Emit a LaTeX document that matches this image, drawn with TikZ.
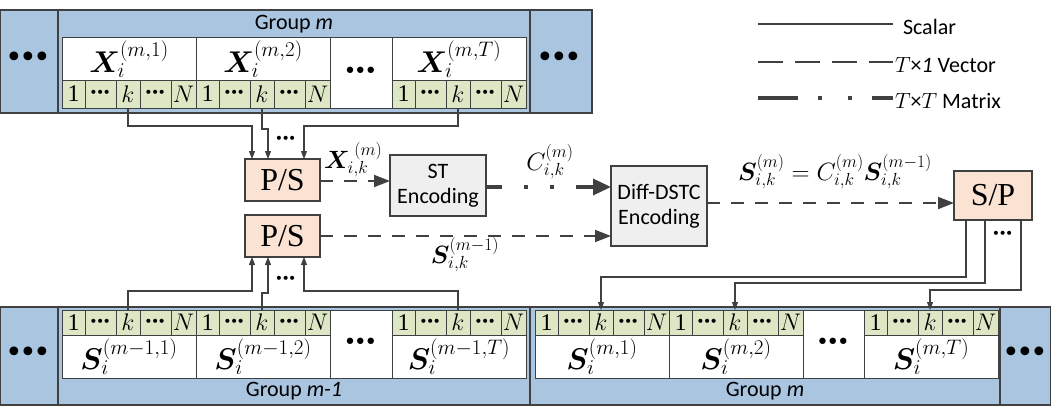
\documentclass[tikz,border=0pt]{standalone}
\usepackage{fix-cm}
\usepackage{bm}
\usepackage{fontspec}
\setmainfont{Liberation Serif}
\setsansfont{Carlito}
\newfontfamily\dotf{DejaVu Sans}
\usetikzlibrary{arrows.meta}
\definecolor{ln}{HTML}{404040}
\definecolor{bandc}{HTML}{A9C5E0}
\definecolor{grn}{HTML}{DDE7C5}
\definecolor{psc}{HTML}{FBE3D4}
\definecolor{gbox}{HTML}{EFEFEF}
\newcommand\bdots{{\dotf\kern-0.05em•\kern-0.12em•\kern-0.12em•}}
\tikzset{
 every node/.style={inner sep=0pt,outer sep=0pt},
 band/.style={draw=ln,fill=bandc,line width=1.2pt},
 gcell/.style={draw=ln,fill=grn,line width=1pt,font=\fontsize{24}{24}\selectfont},
 wcell/.style={draw=ln,fill=white,line width=1pt},
 psbox/.style={draw=ln,fill=psc,line width=1.6pt,font=\fontsize{32}{32}\selectfont},
 encbox/.style={draw=ln,fill=gbox,line width=1.4pt,font=\sffamily\fontsize{22}{25}\selectfont,align=center},
 scal/.style={draw=ln,line width=1.1pt},
 sarr/.style={scal,-{Triangle[length=8pt,width=6pt]}},
 vec/.style={draw=ln,line width=1.8pt,dash pattern=on 13pt off 11pt},
 varr/.style={vec,-{Triangle[length=16pt,width=12pt]}},
 mat/.style={draw=ln,line width=3.5pt},
 lbl/.style={font=\sffamily\fontsize{22}{22}\selectfont},
 bigdots/.style={font=\fontsize{30}{30}\selectfont},
 mlab/.style={font=\fontsize{25}{25}\selectfont}
}
\newcommand\kblk[4]{% name, left x, top y, height
 \node[gcell,minimum width=23pt,minimum height=#4pt] (#1a) at (#2+11.5,#3+#4/2) {1};
 \node[gcell,minimum width=31pt,minimum height=#4pt] (#1b) at (#2+38.5,#3+#4/2) {\fontsize{14}{14}\selectfont\bdots};
 \node[gcell,minimum width=24pt,minimum height=#4pt] (#1k) at (#2+66,#3+#4/2) {$k$};
 \node[gcell,minimum width=31pt,minimum height=#4pt] (#1d) at (#2+93.5,#3+#4/2) {\fontsize{14}{14}\selectfont\bdots};
 \node[gcell,minimum width=25pt,minimum height=#4pt] (#1n) at (#2+121.5,#3+#4/2) {$N$};
}
\newcommand\wblk[5]{% name, left x, top y, height, text
 \node[wcell,minimum width=134pt,minimum height=#4pt] (#1) at (#2+67,#3+#4/2) {\fontsize{30}{30}\selectfont\raisebox{-2pt}{$#5$}};
}
\begin{document}
\begin{tikzpicture}[x=1pt,y=-1pt]
\useasboundingbox (0,0) rectangle (1051,412);
% ===== top group
\node[band,minimum width=58pt,minimum height=103pt] (tl) at (29,61.5) {};
\node[band,minimum width=472pt,minimum height=103pt] (tg) at (294,61.5) {};
\node[band,minimum width=62pt,minimum height=103pt] (tr) at (561,61.5) {};
\node[bigdots] (tld) at (29,60) {\bdots};
\node[bigdots] (trd) at (560,60) {\bdots};
\node[lbl] (tgl) at (294,24) {Group \textit{m}};
\wblk{tx1}{62}{38}{42}{\bm X_i^{(m,1)}}
\wblk{tx2}{196}{38}{42}{\bm X_i^{(m,2)}}
\node[wcell,minimum width=62pt,minimum height=70pt] (txd) at (361,73) {\fontsize{22}{22}\selectfont\bdots};
\wblk{tx3}{392}{38}{42}{\bm X_i^{(m,T)}}
\kblk{ta}{62}{80}{28}
\kblk{tb}{196}{80}{28}
\kblk{tc}{392}{80}{28}
% ===== bottom groups
\node[band,minimum width=58pt,minimum height=98pt] (bl) at (29,356) {};
\node[band,minimum width=472pt,minimum height=98pt] (bg1) at (294,356) {};
\node[band,minimum width=470pt,minimum height=98pt] (bg2) at (765,356) {};
\node[band,minimum width=51pt,minimum height=98pt] (br) at (1025.5,356) {};
\node[bigdots] (bld) at (29,355) {\bdots};
\node[bigdots] (brd) at (1026,355) {\bdots};
\node[lbl] (bgl1) at (294,391) {Group \textit{m-1}};
\node[lbl] (bgl2) at (765,391) {Group \textit{m}};
\kblk{ba}{62}{310}{25}
\kblk{bb}{196}{310}{25}
\kblk{bc}{392}{310}{25}
\wblk{bs1}{62}{335}{43}{\bm S_i^{(m-1,1)}}
\wblk{bs2}{196}{335}{43}{\bm S_i^{(m-1,2)}}
\node[wcell,minimum width=62pt,minimum height=68pt] (bsd) at (361,344) {\fontsize{22}{22}\selectfont\bdots};
\wblk{bs3}{392}{335}{43}{\bm S_i^{(m-1,T)}}
\kblk{ca}{535}{310}{25}
\kblk{cb}{669}{310}{25}
\kblk{cc}{864}{310}{25}
\wblk{cs1}{535}{335}{43}{\bm S_i^{(m,1)}}
\wblk{cs2}{669}{335}{43}{\bm S_i^{(m,2)}}
\node[wcell,minimum width=61pt,minimum height=68pt] (csd) at (833.5,344) {\fontsize{22}{22}\selectfont\bdots};
\wblk{cs3}{864}{335}{43}{\bm S_i^{(m,T)}}
% ===== boxes
\node[psbox,minimum width=75pt,minimum height=42pt] (ps1) at (282.5,180) {P/S};
\node[psbox,minimum width=75pt,minimum height=42pt] (ps2) at (282.5,236) {P/S};
\node[encbox,minimum width=96pt,minimum height=61pt] (st) at (438,185.5) {ST\\Encoding};
\node[encbox,minimum width=96pt,minimum height=80pt] (dd) at (659,206) {Diff-DSTC\\Encoding};
\node[psbox,minimum width=78pt,minimum height=49pt] (sp) at (993,195.5) {S/P};
% ===== top connectors
\coordinate (j1) at (252,126); \coordinate (j2) at (268,129); \coordinate (j3) at (304,126);
\draw[sarr] (tak.south) |- (j1) -- (j1 |- ps1.north);
\draw[sarr] (tbk.south) |- (j2) -- (j2 |- ps1.north);
\draw[sarr] (tck.south) |- (j3) -- (j3 |- ps1.north);
\node[font=\fontsize{14}{14}\selectfont] (td) at (286,140) {\bdots};
% bottom connectors
\coordinate (k1) at (252,291); \coordinate (k2) at (268,293); \coordinate (k3) at (304,291);
\draw[sarr] (bak.north) |- (k1) -- (k1 |- ps2.south);
\draw[sarr] (bbk.north) |- (k2) -- (k2 |- ps2.south);
\draw[sarr] (bck.north) |- (k3) -- (k3 |- ps2.south);
\node[font=\fontsize{14}{14}\selectfont] (bd) at (286,280) {\bdots};
% S/P outputs
\coordinate (s1) at (966,277); \coordinate (s2) at (985,283); \coordinate (s3) at (1021,290);
\draw[sarr] (s1 |- sp.south) -- (s1) -| (cak.north);
\draw[sarr] (s2 |- sp.south) -- (s2) -| (cbk.north);
\draw[sarr] (s3 |- sp.south) -- (s3) -| (cck.north);
\node[font=\fontsize{14}{14}\selectfont] (sd) at (1003,235) {\bdots};
% ===== signal arrows
\draw[varr] (ps1.east |- 0,181) -- (st.west |- 0,181);
\node[mlab,anchor=south west] (lx) at (324,177) {$\bm X_{i,k}^{\;(m)}$};
\draw[mat,dash pattern=on 16pt off 22pt on 4pt off 22pt on 4pt off 22pt on 40pt,-{Triangle[length=18pt,width=16pt]}] (st.east |- 0,187) -- (dd.west |- 0,187);
\node[mlab] (lc) at (550,162) {$C_{i,k}^{(m)}$};
\draw[varr] (ps2.east) -- (dd.west |- ps2.east);
\node[mlab] (ls) at (465,255) {$\bm S_{i,k}^{(m-1)}$};
\draw[varr] (dd.east |- 0,203) -- (sp.west |- 0,203);
\node[mlab] (le) at (835,172) {$\bm S_{i,k}^{(m)}=C_{i,k}^{(m)}\bm S_{i,k}^{(m-1)}$};
% ===== legend
\coordinate (a1) at (758,24); \coordinate (a2) at (893,24);
\coordinate (b1) at (758,62); \coordinate (b2) at (893,62);
\coordinate (c1) at (758,98); \coordinate (c2) at (893,98);
\draw[scal] (a1) -- (a2);
\draw[draw=ln,line width=1.8pt,dash pattern=on 25pt off 12pt] (b1) -- (b2);
\draw[draw=ln,line width=3.5pt,dash pattern=on 40pt off 20pt on 4pt off 26pt on 4pt off 20pt on 40pt] (c1) -- (c2);
\node[lbl,anchor=west] (la) at (903,27) {Scalar};
\node[lbl,anchor=west] (lb) at (895,65) {$T$×\textit{1} Vector};
\node[lbl,anchor=west] (lcm) at (895,101) {$T$×$T$ Matrix};
\end{tikzpicture}
\end{document}
